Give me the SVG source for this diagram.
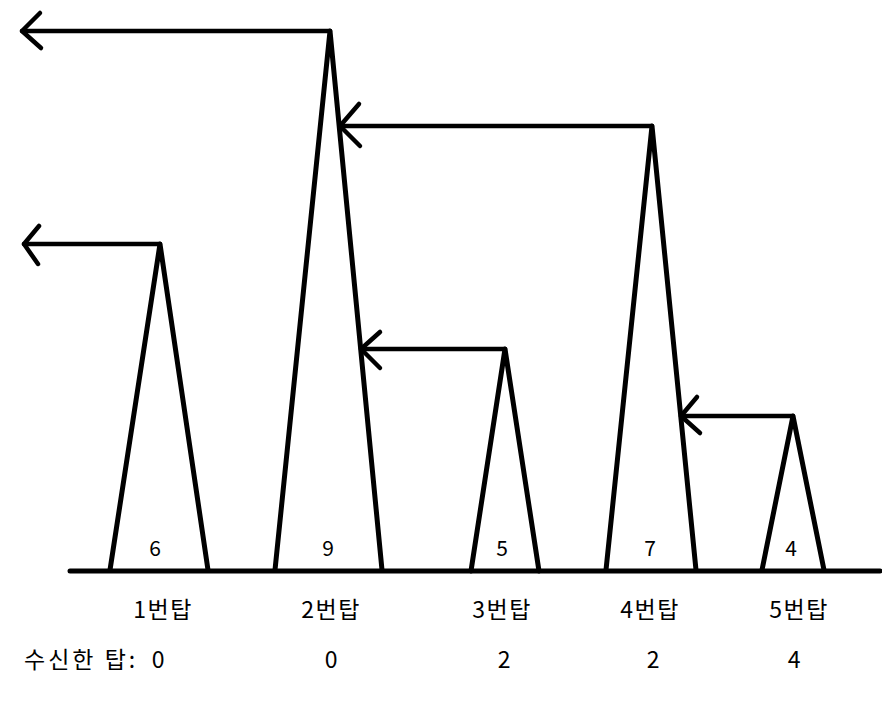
<svg xmlns="http://www.w3.org/2000/svg" width="882" height="711" viewBox="0 0 882 711">
<style>
.ln{fill:none;stroke:#000;stroke-width:5;stroke-linecap:round;stroke-linejoin:round}
.ar{fill:none;stroke:#000;stroke-width:4.5;stroke-linecap:round;stroke-linejoin:round}
.num{font-family:"Noto Sans CJK KR","Noto Sans",sans-serif;font-size:21px;fill:#000;text-anchor:middle}
.lbl{font-family:"Noto Sans CJK KR","Noto Sans",sans-serif;font-size:23px;letter-spacing:1.5px;fill:#000;text-anchor:middle}
</style>
<rect width="882" height="711" fill="#fff"/>
<g id="ground"><line class="ln" x1="70" y1="571" x2="880" y2="571"/></g>
<g id="tower1"><polyline class="ln" points="110,570 160,244 208,570"/><text class="num" x="155" y="556">6</text><text class="lbl" x="163" y="618">1번탑</text></g>
<g id="tower2"><polyline class="ln" points="275,570 330,31 382,570"/><text class="num" x="328" y="556">9</text><text class="lbl" x="331" y="618">2번탑</text></g>
<g id="tower3"><polyline class="ln" points="471,571 505,349 539,571"/><text class="num" x="502" y="556">5</text><text class="lbl" x="502" y="618">3번탑</text></g>
<g id="tower4"><polyline class="ln" points="606,570 652,126 696,570"/><text class="num" x="650" y="556">7</text><text class="lbl" x="650" y="618">4번탑</text></g>
<g id="tower5"><polyline class="ln" points="762,570 793,416 824,570"/><text class="num" x="791" y="556">4</text><text class="lbl" x="799" y="618">5번탑</text></g>
<g id="connectors">
<polyline class="ar" points="330,31 22,31"/><polyline class="ar" points="40,13 22,31 41,48"/>
<polyline class="ar" points="160,244 24,244"/><polyline class="ar" points="39,226 24,244 38,264"/>
<polyline class="ar" points="652,126 340,126"/><polyline class="ar" points="359,104 340,126 360,146"/>
<polyline class="ar" points="505,349 361,349"/><polyline class="ar" points="380,332 361,349 380,368"/>
<polyline class="ar" points="793,416 681,416"/><polyline class="ar" points="697,397 681,416 700,433"/>
</g>
<g id="received">
<text class="lbl" x="24" y="668" style="text-anchor:start;letter-spacing:3px">수신한 탑:</text>
<text class="lbl" x="159" y="668">0</text>
<text class="lbl" x="332" y="668">0</text>
<text class="lbl" x="505" y="668">2</text>
<text class="lbl" x="654" y="668">2</text>
<text class="lbl" x="795" y="668">4</text>
</g>
</svg>
